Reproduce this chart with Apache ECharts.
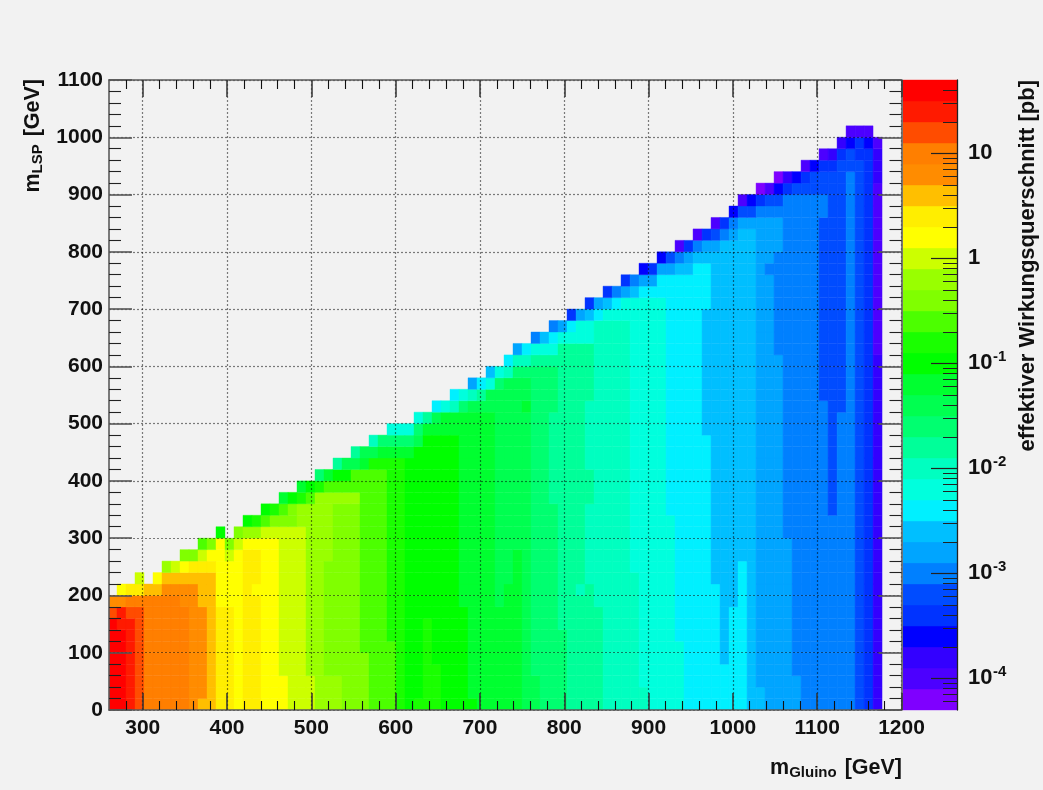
<!DOCTYPE html>
<html>
<head>
<meta charset="utf-8">
<style>html,body{margin:0;padding:0;background:#f2f2f2;}#c{width:1043px;height:790px;}</style>
<script src="https://cdn.jsdelivr.net/npm/echarts@6/dist/echarts.min.js"></script>
</head>
<body>
<div id="c"></div>
<script>
// Colour of each of the 30 cross-section bands, lowest band first.
const bandColors = ['#7f00ff','#4c00ff','#3300ff','#0000ff','#0033ff','#004cff','#0080ff','#00a5ff','#00bfff','#00f0ff',
  '#00ffdd','#00ffc0','#00ff99','#00ff70','#00ff50','#00ff30','#00ff00','#1aff00','#4cff00','#80ff00',
  '#99ff00','#ccff00','#ffff00','#ffee00','#ffbf00','#ff8c00','#ff7f00','#ff4c00','#ff1a00','#ff0000'];
// Band edges in pb.
const bandEdges = [5e-5,7.92e-5,1.256e-4,1.99e-4,3.15e-4,5e-4,7.92e-4,1.256e-3,1.99e-3,3.15e-3,
  5e-3,7.92e-3,1.256e-2,1.99e-2,3.15e-2,5e-2,7.92e-2,0.1256,0.199,0.315,
  0.5,0.792,1.256,1.99,3.15,5,7.92,12.56,19.9,31.5,50];
const xMajor = [300,400,500,600,700,800,900,1000,1100,1200];
const xMinor = [280,320,340,360,380,420,440,460,480,520,540,560,580,620,640,660,680,720,740,760,780,820,840,860,880,920,940,960,980,1020,1040,1060,1080,1120,1140,1160,1180];
const barDecades = [1e-4,1e-3,1e-2,1e-1,1,10];
const barUpperDecades = [1,10];
const barLowerDecades = [1e-4,1e-3,1e-2,1e-1];
const barMinor = [6e-5,7e-5,8e-5,9e-5,2e-4,3e-4,4e-4,5e-4,6e-4,7e-4,8e-4,9e-4,2e-3,3e-3,4e-3,5e-3,6e-3,7e-3,8e-3,9e-3,
  .02,.03,.04,.05,.06,.07,.08,.09,.2,.3,.4,.5,.6,.7,.8,.9,2,3,4,5,6,7,8,9,20,30,40];
// Bins
const xBinStart = 258.8, xBinWidth = 10.676, yBinHeight = 20;
// One list per gluino-mass bin, bottom to top: first row, band, next row, band, ... ; -1 closes the column.
const bandColumns = [
[0,29,8,27,9,25,10,-1],
[0,29,7,28,9,25,10,22,11,-1],
[0,28,8,27,9,26,10,23,11,-1],
[0,27,9,26,10,23,11,21,12,-1],
[0,26,10,24,11,-1],
[0,26,10,24,11,22,12,-1],
[0,26,10,25,11,24,12,20,13,-1],
[0,26,10,25,11,24,12,21,13,-1],
[0,26,9,25,11,24,12,22,13,19,14,-1],
[0,25,11,24,12,23,13,19,14,-1],
[0,24,1,25,9,24,12,23,13,21,14,18,15,-1],
[0,24,12,23,13,22,14,19,15,-1],
[0,23,9,22,15,16,16,-1],
[0,23,9,22,13,21,14,19,15,-1],
[0,22,14,21,15,19,16,-1],
[0,23,14,22,15,20,16,16,17,-1],
[0,23,10,22,11,23,14,22,15,20,16,17,17,-1],
[0,22,15,21,16,18,17,16,18,-1],
[0,22,15,21,16,19,17,17,18,-1],
[0,22,3,21,16,19,17,18,18,15,19,-1],
[0,21,16,19,18,16,19,-1],
[0,21,16,20,18,17,19,15,20,-1],
[0,21,3,20,18,18,19,16,20,-1],
[0,20,19,17,20,13,21,-1],
[0,20,3,19,13,20,19,18,20,15,21,-1],
[0,20,3,19,18,20,19,18,20,16,21,12,22,-1],
[0,19,18,20,19,18,20,16,21,14,22,-1],
[0,19,18,20,19,18,21,14,22,12,23,-1],
[0,19,5,18,21,15,22,14,23,-1],
[0,18,21,17,22,14,23,11,24,-1],
[0,18,21,17,22,15,23,13,24,-1],
[0,18,6,17,22,15,23,13,24,10,25,-1],
[0,17,22,15,23,13,24,10,25,-1],
[0,16,22,15,23,13,24,10,25,-1],
[0,17,1,16,23,14,24,13,25,10,26,-1],
[0,17,8,16,24,15,25,12,26,-1],
[0,17,4,16,24,15,25,14,26,9,27,-1],
[0,16,24,15,26,10,27,-1],
[0,16,24,15,26,11,27,9,28,-1],
[0,16,9,15,26,13,27,10,28,-1],
[0,16,1,15,26,14,27,11,28,7,29,-1],
[0,15,26,14,27,12,28,9,29,-1],
[0,15,26,14,28,10,29,8,30,-1],
[0,15,9,14,28,13,29,10,30,-1],
[0,15,11,14,29,11,30,9,31,-1],
[0,15,14,14,29,13,30,11,31,7,32,-1],
[0,14,26,15,27,14,29,13,30,11,31,9,32,-1],
[0,14,3,13,30,12,31,10,32,6,33,-1],
[0,13,30,12,31,10,32,8,33,-1],
[0,13,18,12,26,13,30,12,31,10,32,9,33,6,34,-1],
[0,13,7,12,32,10,33,7,34,-1],
[0,12,32,10,33,9,34,4,35,-1],
[0,12,10,11,11,12,32,10,34,7,35,-1],
[0,12,11,11,18,12,21,11,27,12,32,10,34,8,35,4,36,-1],
[0,12,9,11,34,9,35,7,36,-1],
[0,11,34,10,35,8,36,4,37,-1],
[0,11,34,10,35,9,36,6,37,-1],
[0,11,34,10,36,7,37,4,38,-1],
[0,11,12,10,36,8,37,6,38,-1],
[0,11,2,10,36,9,37,7,38,3,39,-1],
[0,10,36,9,37,7,38,4,39,-1],
[0,10,36,9,38,7,39,3,40,-1],
[0,10,17,9,38,7,39,5,40,-1],
[0,10,6,9,38,8,39,6,40,1,41,-1],
[0,9,38,8,39,7,40,4,41,-1],
[0,9,39,8,40,6,41,1,42,-1],
[0,9,24,8,35,9,39,8,40,7,41,4,42,-1],
[0,9,11,8,40,7,41,5,42,1,43,-1],
[0,9,4,8,41,6,42,4,43,-1],
[0,9,9,8,41,7,42,6,43,3,44,-1],
[0,9,13,8,42,7,43,5,44,1,45,-1],
[0,8,42,7,43,5,44,3,45,-1],
[0,8,2,7,43,6,44,4,45,0,46,-1],
[0,7,38,6,39,7,43,6,44,5,45,1,46,-1],
[0,7,31,6,40,7,43,6,44,5,45,3,46,0,47,-1],
[0,7,15,6,45,4,46,2,47,-1],
[0,7,3,6,45,5,46,3,47,-1],
[0,6,45,5,46,4,47,1,48,-1],
[0,6,45,5,47,3,48,-1],
[0,6,27,5,43,6,45,5,47,4,48,1,49,-1],
[0,6,17,5,47,4,48,2,49,-1],
[0,6,26,5,48,4,49,2,50,-1],
[0,6,47,5,49,3,50,1,51,-1],
[0,5,48,4,50,1,51,-1],
[0,4,49,3,50,1,51,-1],
[0,2,31,1,46,2,49,1,50,-1]
];

const cells = [];
bandColumns.forEach(function (col, k) {
  for (let i = 0; i + 2 < col.length; i += 2) {
    for (let r = col[i]; r < col[i + 2]; r++) {
      cells.push([xBinStart + k * xBinWidth, r * yBinHeight, col[i + 1]]);
    }
  }
});
const barData = bandColors.map(function (c, i) { return [bandEdges[i], bandEdges[i + 1], i]; });

const font = 'Liberation Sans';
const axisGray = '#5a5a5a';
const gridDots = { color: 'rgba(0,0,0,0.5)', width: 1.2, type: [2, 2] };
const plain = function (v) { return String(v); };

function xAxisOf(position, opt) {
  return Object.assign({
    type: 'value', gridIndex: 0, min: 260, max: 1200, position: position, z: 6,
    axisLine: { show: true, onZero: false, lineStyle: { color: axisGray, width: 1.6 } },
    axisLabel: { show: false }, splitLine: { show: false },
    axisTick: { show: true, inside: true, length: 17, customValues: xMajor, lineStyle: { color: '#333', width: 1.5 } }
  }, opt || {});
}
function yAxisOf(position, opt) {
  return Object.assign({
    type: 'value', gridIndex: 0, min: 0, max: 1100, interval: 100, position: position, z: 6,
    axisLine: { show: true, onZero: false, lineStyle: { color: axisGray, width: 1.6 } },
    axisLabel: { show: false }, splitLine: { show: false },
    axisTick: { show: true, inside: true, length: 23, lineStyle: { color: '#555', width: 1.6 } },
    minorTick: { show: true, splitNumber: 5, length: 12, lineStyle: { color: '#222', width: 1.1 } }
  }, opt || {});
}
const minorX = function (position) {
  return xAxisOf(position, { axisLine: { show: false, onZero: false },
    axisTick: { show: true, inside: true, length: 9, customValues: xMinor, lineStyle: { color: '#111', width: 1.1 } } });
};
const barAxis = function (opt) {
  return Object.assign({
    type: 'log', logBase: 10, gridIndex: 1, min: 5e-5, max: 50, position: 'right', z: 6,
    axisLine: { show: false, onZero: false }, splitLine: { show: false }, minorTick: { show: false },
    axisTick: { show: false }, axisLabel: { show: false }
  }, opt);
};
const barLabel = { color: '#111', fontWeight: 'bold', fontFamily: font };

const subRich = { m: { font: 'bold 21.5px "' + font + '"', fill: '#111' },
  s: { font: 'bold 15px "' + font + '"', fill: '#111', verticalAlign: 'bottom', padding: [10, 2, 0, 0] } };

const chart = echarts.init(document.getElementById('c'), null, { renderer: 'canvas' });
chart.setOption({
  animation: false,
  backgroundColor: '#f2f2f2',
  textStyle: { fontFamily: font },
  grid: [
    { left: 109, top: 80, width: 792.5, height: 630 },
    { left: 903, top: 80, width: 54, height: 630 }
  ],
  xAxis: [
    xAxisOf('bottom', {
      axisLabel: { show: true, customValues: xMajor, formatter: plain, margin: 8, color: '#111', fontSize: 21, fontWeight: 'bold', fontFamily: font },
      splitLine: { show: true, lineStyle: gridDots }
    }),
    xAxisOf('top'),
    minorX('bottom'),
    minorX('top'),
    { type: 'value', gridIndex: 1, min: 0, max: 1, show: false }
  ],
  yAxis: [
    yAxisOf('left', {
      axisLabel: { show: true, formatter: plain, margin: 6, color: '#111', fontSize: 21, fontWeight: 'bold', fontFamily: font },
      splitLine: { show: true, lineStyle: gridDots }
    }),
    yAxisOf('right'),
    barAxis({
      axisLine: { show: true, onZero: false, lineStyle: { color: '#222', width: 1.3 } },
      axisTick: { show: true, inside: true, length: 26, customValues: barDecades, lineStyle: { color: '#222', width: 1.2 } },
      axisLabel: Object.assign({ show: true, customValues: barUpperDecades, margin: 11, fontSize: 22,
        formatter: function (v) { return String(Math.round(v)); } }, barLabel)
    }),
    barAxis({
      axisTick: { show: true, inside: true, length: 14, customValues: barMinor, lineStyle: { color: '#222', width: 1 } },
      axisLabel: Object.assign({ show: true, customValues: barLowerDecades, margin: 11, fontSize: 22, padding: [5, 0, 0, 0],
        formatter: function () { return '10'; } }, barLabel)
    }),
    barAxis({
      axisLabel: Object.assign({ show: true, customValues: barLowerDecades, margin: 36, fontSize: 15, lineHeight: 14, verticalAlign: 'bottom',
        formatter: function (v) { return String(Math.round(Math.log10(v))); } }, barLabel)
    })
  ],
  graphic: [
    { type: 'text', z: 20, x: 902, y: 768, style: { text: '{m|m}{s|Gluino}{m| [GeV]}', align: 'right', verticalAlign: 'middle', fill: '#111', rich: subRich } },
    { type: 'text', z: 20, x: 33, y: 79, rotation: Math.PI / 2, style: { text: '{m|m}{s|LSP}{m| [GeV]}', align: 'right', verticalAlign: 'middle', fill: '#111', rich: subRich } },
    { type: 'text', z: 20, x: 1028, y: 80, rotation: Math.PI / 2, style: { text: 'effektiver Wirkungsquerschnitt [pb]', align: 'right', verticalAlign: 'middle', fill: '#111', font: 'bold 22px "' + font + '"' } }
  ],
  series: [
    {
      type: 'custom', coordinateSystem: 'cartesian2d', xAxisIndex: 0, yAxisIndex: 0, clip: true, z: 2,
      encode: { x: 0, y: 1 }, data: cells, progressive: 0, silent: true,
      renderItem: function (params, api) {
        const a = api.coord([api.value(0), api.value(1)]);
        const b = api.coord([api.value(0) + xBinWidth, api.value(1) + yBinHeight]);
        const color = bandColors[api.value(2)];
        return { type: 'rect', shape: { x: a[0], y: b[1], width: b[0] - a[0], height: a[1] - b[1] },
          style: { fill: color, stroke: color, lineWidth: 0.4 } };
      }
    },
    {
      type: 'custom', coordinateSystem: 'cartesian2d', xAxisIndex: 4, yAxisIndex: 2, z: 2,
      encode: { y: [0, 1] }, data: barData, silent: true,
      renderItem: function (params, api) {
        const a = api.coord([0, api.value(0)]);
        const b = api.coord([1, api.value(1)]);
        const color = bandColors[api.value(2)];
        return { type: 'rect', shape: { x: a[0], y: b[1], width: b[0] - a[0], height: a[1] - b[1] },
          style: { fill: color, stroke: color, lineWidth: 0.4 } };
      }
    }
  ]
});
</script>
</body>
</html>
